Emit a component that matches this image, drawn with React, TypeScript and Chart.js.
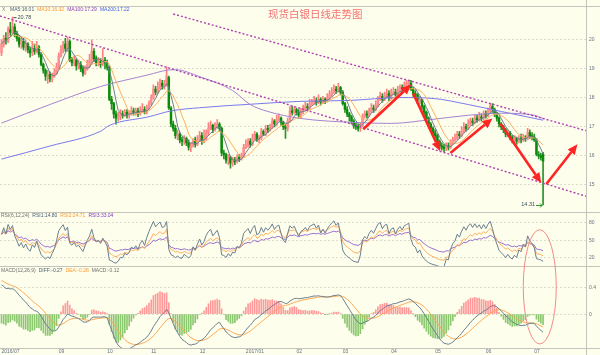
import React, { useEffect, useRef } from 'react';
import { Chart, registerables } from 'chart.js';

Chart.register(...registerables);

// ---------- price data (daily OHLC) ----------
const opens = [
  19.55,19.85,20.05,19.95,20.35,20.25,20.45,20.20,20.05,19.85,
  19.95,19.75,19.85,19.65,19.55,19.70,19.60,19.75,19.50,19.15,
  18.95,18.75,18.80,18.65,18.75,18.85,19.05,19.45,19.65,19.85,
  19.70,19.95,19.30,19.20,19.30,19.10,19.15,19.00,18.85,19.00,
  19.15,19.30,19.60,19.35,19.20,19.25,19.15,19.30,19.20,19.05,
  17.95,17.80,17.45,17.30,17.35,17.45,17.40,17.50,17.40,17.45,
  17.55,17.50,17.55,17.45,17.55,17.60,17.50,17.65,17.80,18.00,
  18.30,18.20,18.35,18.50,18.40,18.45,18.70,17.65,17.10,16.95,
  16.70,16.75,16.55,16.50,16.60,16.45,16.30,16.35,16.55,16.40,
  16.55,16.70,16.50,16.60,16.80,16.95,17.05,16.90,17.00,17.10,
  16.95,16.10,16.05,15.85,15.95,15.75,15.85,15.80,15.95,15.90,
  16.00,16.30,16.40,16.50,16.40,16.60,16.75,16.55,16.60,16.85,
  16.75,16.95,16.90,17.00,17.20,17.10,17.25,17.30,17.15,17.00,
  16.95,17.20,17.55,17.50,17.60,17.50,17.40,17.55,17.60,17.70,
  17.65,17.80,17.85,17.90,17.85,17.95,17.85,17.95,17.90,18.00,
  18.10,18.20,18.30,18.25,18.35,18.20,17.80,17.60,17.45,17.35,
  17.20,17.05,17.00,16.95,17.05,17.35,17.45,17.40,17.55,17.65,
  17.60,17.75,17.95,18.05,17.95,18.10,18.15,18.00,18.15,18.20,
  18.10,18.25,18.35,18.30,18.45,18.50,18.50,18.30,18.15,18.10,
  17.90,17.95,17.70,17.50,17.30,17.10,16.95,16.80,16.70,16.50,
  16.35,16.30,16.25,16.35,16.30,16.45,16.55,16.60,16.75,16.70,
  16.85,17.00,16.95,17.10,17.20,17.15,17.30,17.25,17.35,17.30,
  17.45,17.40,17.55,17.70,17.60,17.45,17.30,17.10,17.00,16.90,
  16.75,16.80,16.65,16.55,16.60,16.50,16.60,16.55,16.65,16.60,
  16.80,16.70,16.65,16.55,16.05,16.00,16.06,
];
const highs = [
  20.00,20.15,20.25,20.45,20.60,20.78,20.55,20.30,20.15,20.10,
  20.05,20.00,19.90,19.75,19.95,19.85,19.95,19.80,19.55,19.20,
  19.00,18.95,18.90,18.85,19.00,19.20,19.55,19.80,19.95,20.05,
  20.10,20.00,19.40,19.45,19.35,19.30,19.25,19.10,19.10,19.30,
  19.50,20.00,19.70,19.45,19.40,19.35,19.70,19.40,19.30,19.10,
  18.05,17.85,17.55,17.50,17.60,17.55,17.60,17.60,17.55,17.70,
  17.65,17.65,17.65,17.70,17.80,17.70,17.75,17.90,18.10,18.45,
  18.40,18.55,18.65,18.60,18.60,19.07,18.75,17.70,17.20,17.05,
  16.90,16.80,16.65,16.70,16.65,16.55,16.45,16.60,16.65,16.70,
  16.85,16.80,16.90,16.90,17.15,17.20,17.10,17.15,17.25,17.15,
  17.00,16.20,16.10,16.05,16.00,15.95,15.95,16.05,16.05,16.10,
  16.40,16.55,16.60,16.60,16.75,16.85,16.80,16.70,16.95,16.90,
  17.05,17.05,17.10,17.30,17.25,17.40,17.45,17.35,17.20,17.10,
  17.30,17.70,17.70,17.70,17.65,17.60,17.65,17.75,17.85,17.80,
  17.95,17.95,18.05,18.00,18.10,18.00,18.05,18.00,18.15,18.25,
  18.35,18.45,18.40,18.50,18.40,18.25,17.85,17.70,17.50,17.40,
  17.25,17.15,17.10,17.15,17.45,17.55,17.55,17.65,17.80,17.75,
  17.90,18.05,18.20,18.15,18.20,18.30,18.25,18.30,18.35,18.30,
  18.40,18.45,18.45,18.55,18.60,18.62,18.60,18.35,18.25,18.15,
  18.05,17.95,17.75,17.55,17.35,17.15,17.00,16.90,16.75,16.55,
  16.45,16.40,16.45,16.45,16.55,16.65,16.75,16.85,16.85,17.00,
  17.15,17.10,17.25,17.30,17.30,17.40,17.40,17.50,17.45,17.55,
  17.55,17.65,17.80,17.80,17.65,17.50,17.35,17.15,17.05,16.95,
  16.90,16.85,16.70,16.70,16.65,16.70,16.75,16.75,16.70,16.95,
  16.90,16.80,16.75,16.60,16.15,16.10,16.12,
];
const lows = [
  19.45,19.75,19.85,19.90,20.15,20.20,20.10,19.95,19.75,19.70,
  19.65,19.60,19.55,19.40,19.45,19.50,19.55,19.40,19.10,18.85,
  18.60,18.50,18.55,18.55,18.70,18.80,19.00,19.40,19.55,19.60,
  19.60,19.25,19.10,19.10,18.95,19.00,18.90,18.75,18.80,18.95,
  19.05,19.20,19.25,19.10,19.10,19.05,19.10,19.00,18.95,17.90,
  17.60,17.30,17.09,17.20,17.25,17.30,17.35,17.30,17.30,17.40,
  17.40,17.40,17.35,17.40,17.50,17.45,17.45,17.60,17.75,17.95,
  18.10,18.15,18.30,18.30,18.30,18.40,17.60,17.00,16.85,16.60,
  16.55,16.45,16.35,16.40,16.35,16.20,16.15,16.30,16.30,16.35,
  16.50,16.40,16.45,16.55,16.70,16.90,16.80,16.85,16.95,16.85,
  16.00,15.90,15.75,15.70,15.58,15.65,15.70,15.75,15.80,15.85,
  15.95,16.25,16.30,16.30,16.35,16.55,16.50,16.45,16.55,16.70,
  16.70,16.80,16.85,16.95,17.00,17.05,17.20,17.05,16.90,16.60,
  16.85,17.15,17.40,17.45,17.40,17.30,17.30,17.45,17.55,17.55,
  17.60,17.75,17.80,17.75,17.80,17.75,17.80,17.80,17.85,17.95,
  18.05,18.15,18.15,18.20,18.10,17.75,17.50,17.35,17.20,17.10,
  16.95,16.90,16.85,16.84,17.00,17.30,17.30,17.35,17.50,17.50,
  17.55,17.70,17.90,17.85,17.90,18.00,17.90,17.95,18.10,17.95,
  18.05,18.20,18.20,18.25,18.40,18.40,18.25,18.05,18.00,17.80,
  17.80,17.60,17.40,17.25,17.00,16.85,16.70,16.60,16.40,16.25,
  16.20,16.15,16.18,16.20,16.25,16.40,16.50,16.55,16.60,16.65,
  16.80,16.85,16.90,17.05,17.05,17.10,17.15,17.20,17.20,17.25,
  17.30,17.35,17.50,17.50,17.35,17.20,17.00,16.90,16.80,16.65,
  16.65,16.55,16.45,16.45,16.40,16.45,16.45,16.50,16.50,16.55,
  16.60,16.55,16.50,16.00,15.90,15.85,14.31,
];
const closes = [
  19.85,20.05,19.95,20.35,20.25,20.45,20.20,20.05,19.85,19.95,
  19.75,19.85,19.65,19.55,19.70,19.60,19.75,19.50,19.15,18.95,
  18.75,18.80,18.65,18.75,18.85,19.05,19.45,19.65,19.85,19.70,
  19.90,19.30,19.20,19.30,19.10,19.15,19.00,18.85,19.00,19.15,
  19.30,19.60,19.35,19.20,19.25,19.15,19.30,19.20,19.05,17.95,
  17.80,17.45,17.30,17.35,17.45,17.40,17.50,17.40,17.45,17.55,
  17.50,17.55,17.45,17.55,17.60,17.50,17.65,17.80,18.00,18.30,
  18.20,18.35,18.50,18.40,18.45,18.75,17.65,17.10,16.95,16.70,
  16.75,16.55,16.50,16.60,16.45,16.30,16.35,16.55,16.40,16.55,
  16.70,16.50,16.60,16.80,16.95,17.05,16.90,17.00,17.10,16.95,
  16.10,16.05,15.85,15.95,15.75,15.85,15.80,15.95,15.90,16.00,
  16.30,16.40,16.50,16.40,16.60,16.75,16.55,16.60,16.85,16.75,
  16.95,16.90,17.00,17.20,17.10,17.25,17.30,17.15,17.00,16.95,
  17.20,17.55,17.50,17.60,17.50,17.40,17.55,17.60,17.70,17.65,
  17.80,17.85,17.90,17.85,17.95,17.85,17.95,17.90,18.00,18.10,
  18.20,18.30,18.25,18.35,18.20,17.80,17.60,17.45,17.35,17.20,
  17.05,17.00,16.95,17.05,17.35,17.45,17.40,17.55,17.65,17.60,
  17.75,17.95,18.05,17.95,18.10,18.15,18.00,18.15,18.20,18.10,
  18.25,18.35,18.30,18.45,18.50,18.55,18.30,18.15,18.10,17.90,
  17.95,17.70,17.50,17.30,17.10,16.95,16.80,16.70,16.50,16.35,
  16.30,16.25,16.35,16.30,16.45,16.55,16.60,16.75,16.70,16.85,
  17.00,16.95,17.10,17.20,17.15,17.30,17.25,17.35,17.30,17.45,
  17.40,17.55,17.70,17.60,17.45,17.30,17.10,17.00,16.90,16.75,
  16.80,16.65,16.55,16.60,16.50,16.60,16.55,16.65,16.60,16.80,
  16.70,16.65,16.55,16.05,16.00,15.95,15.82,
];

// long moving averages (candle index, value)
const ma100Idx = [0, 22, 45, 67, 75, 79, 90, 105, 113, 121, 136, 158, 177, 196, 212, 227, 242, 246];
const ma100Val = [17.13, 17.77, 18.39, 18.80, 18.95, 18.97, 18.73, 18.25, 17.77, 17.53, 17.29, 17.16, 17.12, 17.26, 17.40, 17.47, 17.40, 17.29];
const ma200Idx = [0, 22, 45, 49, 67, 77, 90, 113, 136, 158, 181, 196, 212, 227, 246];
const ma200Val = [15.89, 16.34, 16.85, 17.05, 17.35, 17.55, 17.66, 17.78, 17.88, 17.91, 18.01, 17.98, 17.77, 17.53, 17.23];

// trend channel lines (candle index, price)
const upperLineIdx = [78, 265.5];
const upperLineVal = [20.89, 16.87];
const lowerLineIdx = [-0.68, 265.5];
const lowerLineVal = [20.82, 14.61];

// red arrows (candle index / price)
const arrowFromIdx = [164.3, 187, 203.9, 226.6, 247.5];
const arrowFromVal = [16.92, 18.15, 16.10, 17.12, 15.03];
const arrowToIdx = [186.1, 199.3, 223, 245.2, 261.6];
const arrowToVal = [18.46, 16.16, 17.29, 15.07, 16.40];

// ellipse marking the indicator divergence
const ellipseIdx = 244.5;
const ellipseHalfSpan = 7.5;
const ellipseTopRsi = 68;
const ellipseBottomMacd = -0.444;

const macdSeedEma12 = 19.95;
const macdSeedEma26 = 19.47;
const macdSeedDea = 0.52;
const rsiSeedUp = 0.06;
const rsiSeedAbs = 0.1;

// axes
const monthIdx = [0, 26, 48, 68, 90, 111, 134, 155, 177, 197, 220, 242];
const monthLabels = ['2016/07', '09', '10', '11', '12', '2017/01', '02', '03', '04', '05', '06', '07'];
const priceTicks = [15, 16, 17, 18, 19, 20];
const rsiTicks = [20, 50, 80];
const macdTicks = [0, 0.4];

// header texts
const title = '现货白银日线走势图';
const maHeader = [['MA5:16.01', '#4a5e72'], ['MA10:16.32', '#ff9933'], ['MA100:17.29', '#9040c0'], ['MA200:17.22', '#3d5ce0']];
const rsiHeader = [['RSI(6,12,24)', '#707070'], ['RSI1:14.80', '#4a5e72'], ['RSI2:24.71', '#ff9933'], ['RSI3:33.04', '#8040c0']];
const macdHeader = [['MACD(12,26,9)', '#707070'], ['DIFF:-0.27', '#4a5e72'], ['DEA:-0.28', '#ff9933'], ['MACD:-0.12', '#707070']];

const BG = '#fefeec';
const TICK_COLOR = '#617384';
const GRID = '#dcdccf';
const SEP = '#c4c4bc';
const FONT = '"Liberation Sans", Arial, sans-serif';

export default function App() {
  const ref = useRef<HTMLCanvasElement | null>(null);

  useEffect(() => {
    document.body.style.margin = '0';
    document.body.style.background = BG;
    const canvas = ref.current;
    if (!canvas) return;

    const n = closes.length;
    const isUp = closes.map((c, i) => c >= opens[i]);

    const movAvg = (p: number) =>
      closes.map((_, i) => {
        const s = Math.max(0, i - p + 1);
        let t = 0;
        for (let j = s; j <= i; j++) t += closes[j];
        return t / (i - s + 1);
      });

    const rsi = (p: number) => {
      let u = rsiSeedUp;
      let a = rsiSeedAbs;
      return closes.map((c, i) => {
        if (i > 0) {
          const d = c - closes[i - 1];
          u = (Math.max(d, 0) + (p - 1) * u) / p;
          a = (Math.abs(d) + (p - 1) * a) / p;
        }
        return a > 0 ? (u / a) * 100 : 50;
      });
    };

    let e12 = macdSeedEma12;
    let e26 = macdSeedEma26;
    let dea = macdSeedDea;
    const diffArr: number[] = [];
    const deaArr: number[] = [];
    const histArr: number[] = [];
    closes.forEach((c) => {
      e12 = (2 * c + 11 * e12) / 13;
      e26 = (2 * c + 25 * e26) / 27;
      const d = e12 - e26;
      dea = (2 * d + 8 * dea) / 10;
      diffArr.push(d);
      deaArr.push(dea);
      histArr.push(2 * (d - dea));
    });

    const xy = (arr: number[]) => arr.map((v, i) => ({ x: i, y: v }));
    const pairs = (xs: number[], ys: number[]) => xs.map((v, i) => ({ x: v, y: ys[i] }));

    const lineDs = (label: string, data: any[], color: string, yAxisID: string, extra: any = {}) => ({
      type: 'line',
      label,
      data,
      yAxisID,
      borderColor: color,
      borderWidth: 1,
      pointRadius: 0,
      fill: false,
      tension: 0,
      ...extra,
    });

    const ma5 = movAvg(5);
    const ma10 = movAvg(10);

    const datasets: any[] = [
      lineDs('upper', pairs(upperLineIdx, upperLineVal), '#b040b0', 'y', { borderDash: [2, 2], borderWidth: 1.4 }),
      lineDs('lower', pairs(lowerLineIdx, lowerLineVal), '#b040b0', 'y', { borderDash: [2, 2], borderWidth: 1.4 }),
      lineDs('MA5', xy(ma5), '#6b7f90', 'y'),
      lineDs('MA10', xy(ma10), '#ffb060', 'y'),
      lineDs('MA100', pairs(ma100Idx, ma100Val), '#a584d0', 'y', { cubicInterpolationMode: 'monotone' }),
      lineDs('MA200', pairs(ma200Idx, ma200Val), '#7a7af0', 'y', { cubicInterpolationMode: 'monotone' }),
      lineDs('RSI1', xy(rsi(6)), '#6b7f90', 'yR'),
      lineDs('RSI2', xy(rsi(12)), '#ffb060', 'yR'),
      lineDs('RSI3', xy(rsi(24)), '#9a70d0', 'yR'),
      lineDs('DIFF', xy(diffArr), '#6b7f90', 'yM'),
      lineDs('DEA', xy(deaArr), '#ffa850', 'yM'),
      {
        type: 'bar',
        label: 'body',
        yAxisID: 'y',
        data: closes.map((c, i) => ({ x: i, y: [opens[i], c] })),
        backgroundColor: isUp.map((u) => (u ? '#ff8f8f' : '#0a8a0a')),
        barThickness: 1.8,
        grouped: false,
        borderWidth: 0,
        minBarLength: 0.8,
      },
      {
        type: 'bar',
        label: 'wick',
        yAxisID: 'y',
        data: closes.map((_, i) => ({ x: i, y: [lows[i], highs[i]] })),
        backgroundColor: isUp.map((u) => (u ? '#ff8080' : '#2a922a')),
        barThickness: 1,
        grouped: false,
        borderWidth: 0,
      },
      {
        type: 'bar',
        label: 'MACD',
        yAxisID: 'yM',
        data: histArr.map((v, i) => ({ x: i, y: v })),
        backgroundColor: histArr.map((v) => (v >= 0 ? '#ff9a9a' : '#8cc870')),
        barThickness: 1,
        grouped: false,
        borderWidth: 0,
      },
    ];

    const yCommon = (ticks: number[], fmt: (v: number) => string) => ({
      type: 'linear',
      position: 'right',
      stack: 'panels',
      afterBuildTicks: (s: any) => {
        s.ticks = ticks.map((v) => ({ value: v }));
      },
      afterFit: (s: any) => {
        s.width = 14;
      },
      grid: { color: GRID, lineWidth: 1, drawTicks: false },
      border: { display: false, dash: [2, 2] },
      ticks: {
        font: { family: FONT, size: 5 },
        color: TICK_COLOR,
        padding: 3,
        autoSkip: false,
        callback: (v: number) => fmt(v),
      },
    });

    const overlay = {
      id: 'overlay',
      beforeDraw(chart: any) {
        const { ctx, width, height } = chart;
        ctx.save();
        ctx.fillStyle = BG;
        ctx.fillRect(0, 0, width, height);
        ctx.restore();
      },
      afterDatasetsDraw(chart: any) {
        const { ctx, chartArea, scales } = chart;
        const sx = scales.x;
        const sy = scales.y;
        const sr = scales.yR;
        const sm = scales.yM;
        ctx.save();

        // panel separators and axis line
        ctx.strokeStyle = SEP;
        ctx.lineWidth = 1;
        const hline = (py: number) => {
          const yy = Math.round(py) + 0.5;
          ctx.beginPath();
          ctx.moveTo(0, yy);
          ctx.lineTo(chart.width, yy);
          ctx.stroke();
        };
        hline(sy.top);
        hline(sy.bottom);
        hline(sr.bottom);
        hline(sm.bottom);
        const ax = Math.round(chartArea.right) + 0.5;
        ctx.beginPath();
        ctx.moveTo(ax, 0);
        ctx.lineTo(ax, chart.height);
        ctx.stroke();

        // red arrows
        const AR = '#ff2424';
        arrowFromIdx.forEach((_, k) => {
          const x1 = sx.getPixelForValue(arrowFromIdx[k]);
          const y1 = sy.getPixelForValue(arrowFromVal[k]);
          const x2 = sx.getPixelForValue(arrowToIdx[k]);
          const y2 = sy.getPixelForValue(arrowToVal[k]);
          const ang = Math.atan2(y2 - y1, x2 - x1);
          const head = 10;
          const hw = 4.5;
          const bx = x2 - head * Math.cos(ang);
          const by = y2 - head * Math.sin(ang);
          ctx.strokeStyle = AR;
          ctx.lineWidth = 2.6;
          ctx.beginPath();
          ctx.moveTo(x1, y1);
          ctx.lineTo(bx, by);
          ctx.stroke();
          ctx.fillStyle = AR;
          ctx.beginPath();
          ctx.moveTo(x2, y2);
          ctx.lineTo(bx + hw * Math.sin(ang), by - hw * Math.cos(ang));
          ctx.lineTo(bx - hw * Math.sin(ang), by + hw * Math.cos(ang));
          ctx.closePath();
          ctx.fill();
        });

        // ellipse over indicator panels
        const ecx = sx.getPixelForValue(ellipseIdx);
        const erx = sx.getPixelForValue(ellipseIdx + ellipseHalfSpan) - ecx;
        const etop = sr.getPixelForValue(ellipseTopRsi);
        const ebot = sm.getPixelForValue(ellipseBottomMacd);
        ctx.strokeStyle = '#f58a8a';
        ctx.lineWidth = 1;
        ctx.beginPath();
        ctx.ellipse(ecx, (etop + ebot) / 2, erx, (ebot - etop) / 2, 0, 0, Math.PI * 2);
        ctx.stroke();

        // high / low labels
        let hi = 0;
        let lo = 0;
        for (let i = 1; i < n; i++) {
          if (highs[i] > highs[hi]) hi = i;
          if (lows[i] < lows[lo]) lo = i;
        }
        ctx.font = `5.5px ${FONT}`;
        ctx.textBaseline = 'middle';
        ctx.fillStyle = '#3c4c5c';
        ctx.strokeStyle = '#3c4c5c';
        const hx = sx.getPixelForValue(hi);
        const hy = sy.getPixelForValue(highs[hi]);
        ctx.beginPath();
        ctx.moveTo(hx + 1, hy + 0.5);
        ctx.lineTo(hx + 4, hy + 0.5);
        ctx.stroke();
        ctx.textAlign = 'left';
        ctx.fillText(highs[hi].toFixed(2), hx + 5, hy);
        const lx = sx.getPixelForValue(lo);
        const ly = sy.getPixelForValue(lows[lo]);
        ctx.strokeStyle = '#2a922a';
        ctx.beginPath();
        ctx.moveTo(lx - 7, ly + 0.5);
        ctx.lineTo(lx - 1, ly + 0.5);
        ctx.stroke();
        ctx.beginPath();
        ctx.moveTo(lx - 3, ly - 1.5);
        ctx.lineTo(lx - 1, ly + 0.5);
        ctx.lineTo(lx - 3, ly + 2.5);
        ctx.stroke();
        ctx.textAlign = 'right';
        ctx.fillStyle = '#3c4c5c';
        ctx.fillText(lows[lo].toFixed(2), lx - 8, ly);

        // panel headers
        const seq = (items: string[][], x0: number, yy: number) => {
          ctx.font = `5px ${FONT}`;
          ctx.textAlign = 'left';
          ctx.textBaseline = 'middle';
          let xx = x0;
          items.forEach(([t, c]) => {
            ctx.fillStyle = c;
            ctx.fillText(t, xx, yy);
            xx += ctx.measureText(t).width + 3;
          });
        };
        seq([['X', '#808080']], 2, sy.top + 3.5);
        seq(maHeader, 10, sy.top + 3.5);
        seq(rsiHeader, 1, sr.top + 4);
        seq(macdHeader, 1, sm.top + 4);

        // chart title
        ctx.font = '10.5px "Noto Sans CJK SC", sans-serif';
        ctx.fillStyle = '#f27373';
        ctx.textAlign = 'left';
        ctx.textBaseline = 'middle';
        ctx.fillText(title, 268, 14.5);

        ctx.restore();
      },
    };

    const chart = new Chart(canvas, {
      type: 'line',
      data: { datasets },
      options: {
        responsive: false,
        animation: false,
        devicePixelRatio: 1,
        events: [],
        layout: { padding: { top: 4, left: 0, right: 0, bottom: 0 } },
        plugins: { legend: { display: false }, tooltip: { enabled: false }, title: { display: false } },
        scales: {
          x: {
            type: 'linear',
            min: -0.68,
            max: 265.5,
            offset: false,
            afterBuildTicks: (s: any) => {
              s.ticks = monthIdx.map((v) => ({ value: v }));
            },
            afterFit: (s: any) => {
              s.height = 7;
            },
            grid: { display: false, offset: false, drawTicks: false, tickLength: 0 },
            border: { display: false },
            ticks: {
              font: { family: FONT, size: 5 },
              color: TICK_COLOR,
              padding: 1,
              align: 'start',
              maxRotation: 0,
              minRotation: 0,
              autoSkip: false,
              callback: (_v: number, i: number) => monthLabels[i],
            },
          },
          y: { ...yCommon(priceTicks, (v) => String(v)), stackWeight: 207, min: 14.075, max: 21.164 },
          yR: { ...yCommon(rsiTicks, (v) => String(v)), stackWeight: 55, min: 4.57, max: 98.9 },
          yM: { ...yCommon(macdTicks, (v) => (v === 0 ? '0' : v.toFixed(1))), stackWeight: 82, min: -0.504, max: 0.711 },
        },
      } as any,
      plugins: [overlay],
    } as any);

    return () => chart.destroy();
  }, []);

  return (
    <div style={{ width: 600, height: 355, background: BG }}>
      <canvas ref={ref} width={600} height={355} style={{ display: 'block' }} />
    </div>
  );
}
